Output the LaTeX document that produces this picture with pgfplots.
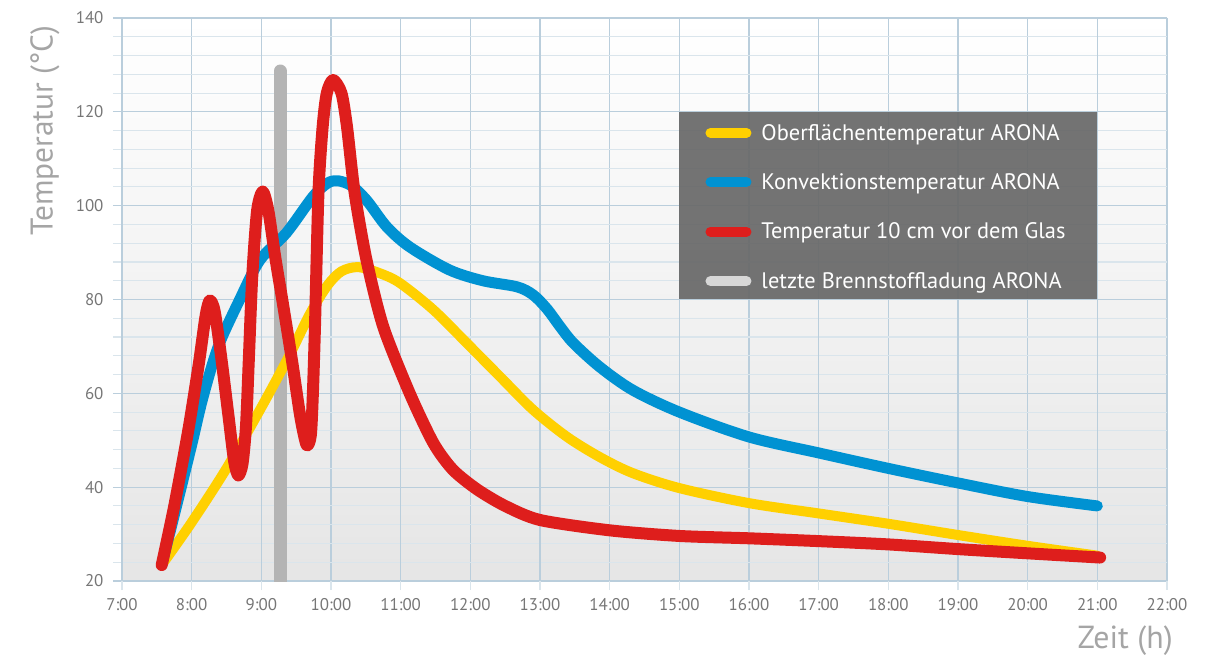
\documentclass[border=0pt]{standalone}
\usepackage{fontspec}
\setmainfont{PT Sans}
\usepackage{pgfplots}
\pgfplotsset{compat=1.18}

\definecolor{cYellow}{RGB}{255,208,0}
\definecolor{cBlue}{RGB}{0,146,210}
\definecolor{cRed}{RGB}{222,30,28}
\definecolor{cBar}{RGB}{180,180,180}
\definecolor{cBarLeg}{RGB}{215,215,215}
\definecolor{gridDark}{RGB}{186,206,220}
\definecolor{gridLight}{RGB}{218,229,236}
\definecolor{tickText}{RGB}{118,118,118}
\definecolor{labText}{RGB}{165,165,165}
\definecolor{legBg}{RGB}{104,104,104}

\begin{document}
\begin{tikzpicture}
\path[use as bounding box] (-122bp,-76bp) rectangle (1085bp,581bp);
\begin{axis}[
    scale only axis,
    width=1045bp, height=563bp,
    xmin=7, xmax=22, ymin=20, ymax=140,
    axis line style={draw=none},
    tick align=outside,
    xtick pos=bottom, ytick pos=left,
    major tick length=9bp, minor tick length=9bp,
    xtick={7,8,...,22},
    xticklabels={7:00,8:00,9:00,10:00,11:00,12:00,13:00,14:00,15:00,16:00,17:00,18:00,19:00,20:00,21:00,22:00},
    ytick={20,40,...,140},
    minor y tick num=4,
    /pgf/number format/assume math mode=true,
    ticklabel style={font=\fontsize{17}{17}\selectfont, text=tickText},
    xticklabel style={yshift=-5bp},
    yticklabel style={xshift=-6bp},
    grid=both,
    major grid style={gridDark, line width=1.3bp},
    minor grid style={gridLight, line width=1.1bp},
    x tick style={gridLight, line width=1.2bp},
    major tick style={gridDark, line width=1.3bp},
    minor tick style={gridLight, line width=1.1bp},
    extra x ticks={7,9,...,21},
    extra x tick labels={},
    extra x tick style={grid=major, major grid style={gridDark, line width=1.3bp}, tick style={gridDark}},
    axis background/.style={top color=white, middle color=black!2, bottom color=black!10},
    xlabel={Zeit (h)},
    xlabel style={at={(axis description cs:0.96,-0.106)}, anchor=center,
        font=\fontsize{32}{32}\selectfont, text=labText},
    ylabel={Temperatur (°C)},
    ylabel style={at={(axis description cs:-0.0737,0.80)}, anchor=center,
        font=\fontsize{31.5}{31.5}\selectfont, text=labText},
    legend image code/.code={\draw[line width=10bp, line cap=round, #1] (0bp,0bp) -- (36bp,0bp);},
    legend style={at={(axis description cs:0.5333,0.8333)}, anchor=north west,
        draw=none, fill=none, text=white,
        font=\fontsize{22.5}{22.5}\selectfont,
        inner xsep=26bp, inner ysep=10bp, row sep=28bp,
        /tikz/every odd column/.append style={column sep=8bp},
        cells={anchor=west}},
]

% letzte Brennstoffladung
\addplot[cBar, line width=13bp, line cap=round, forget plot]
    coordinates {(9.27,15) (9.27,128.7)};

% Oberflaechentemperatur
\addplot[cYellow, line width=10bp, smooth, tension=0.5, line cap=round, line join=round, forget plot]
    coordinates {
    (7.57,23.4) (8.0,32.5) (8.5,44) (9.0,57) (9.4,68) (9.7,77) (9.95,83)
    (10.15,86) (10.39,86.9) (10.7,85.6) (10.99,83.5) (11.47,77.8) (11.95,70.7)
    (12.43,63.5) (12.9,56.5) (13.39,50.7) (13.86,46.4) (14.33,43) (15,39.8)
    (16,36.6) (17,34.4) (18,32.2) (19,29.8) (20,27.5) (21,25.4)
    };

% Konvektionstemperatur
\addplot[cBlue, line width=11bp, smooth, tension=0.5, line cap=round, line join=round, forget plot]
    coordinates {
    (7.57,23.4) (7.8,37) (8.0,49) (8.16,59) (8.38,69.9) (8.69,80) (8.98,88.4)
    (9.36,94.2) (9.74,101.9) (9.95,104.8) (10.1,105.3) (10.3,104.2)
    (10.52,101) (10.8,95.5) (11.13,91.2) (11.7,86.3) (12.18,84)
    (12.67,82.7) (12.9,81) (13.1,78) (13.29,74.2) (13.48,70.7) (13.86,65.6)
    (14.33,60.7) (15,56) (16,50.7) (17,47.3) (18,44) (19,40.9) (20,38) (21,36)
    };

% Temperatur 10 cm vor dem Glas
\addplot[cRed, line width=12bp, smooth, tension=0.45, line cap=round, line join=round, forget plot]
    coordinates {
    (7.57,23.4) (7.75,36) (7.95,52) (8.1,66) (8.2,76.5) (8.26,79.8) (8.33,77.5)
    (8.43,67) (8.53,55) (8.61,45.5) (8.67,42.5) (8.73,45) (8.78,53) (8.82,67)
    (8.87,85) (8.94,99) (9.02,103) (9.1,99) (9.2,89) (9.3,80) (9.44,67)
    (9.56,55) (9.65,49) (9.71,51) (9.74,60) (9.77,74.2) (9.82,102.7)
    (9.88,116.8) (9.94,124) (10.03,126.8) (10.15,124) (10.23,116.8)
    (10.34,102.7) (10.51,88.4) (10.75,74.2) (11.13,60) (11.47,49.4)
    (11.75,43.7) (12.1,39.5) (12.5,36) (13,33) (14,30.8) (15,29.6) (16,29.1)
    (17,28.5) (18,27.8) (19,26.8) (20,25.9) (21.04,25)
    };

% Legendenfeld
\fill[legBg, fill opacity=0.92] (axis cs:15,80) rectangle (axis cs:21,120);

\addlegendimage{cYellow}
\addlegendentry{Oberflächentemperatur ARONA}
\addlegendimage{cBlue}
\addlegendentry{Konvektionstemperatur ARONA}
\addlegendimage{cRed}
\addlegendentry{Temperatur 10 cm vor dem Glas}
\addlegendimage{cBarLeg}
\addlegendentry{letzte Brennstoffladung ARONA}
\end{axis}
\end{tikzpicture}
\end{document}
